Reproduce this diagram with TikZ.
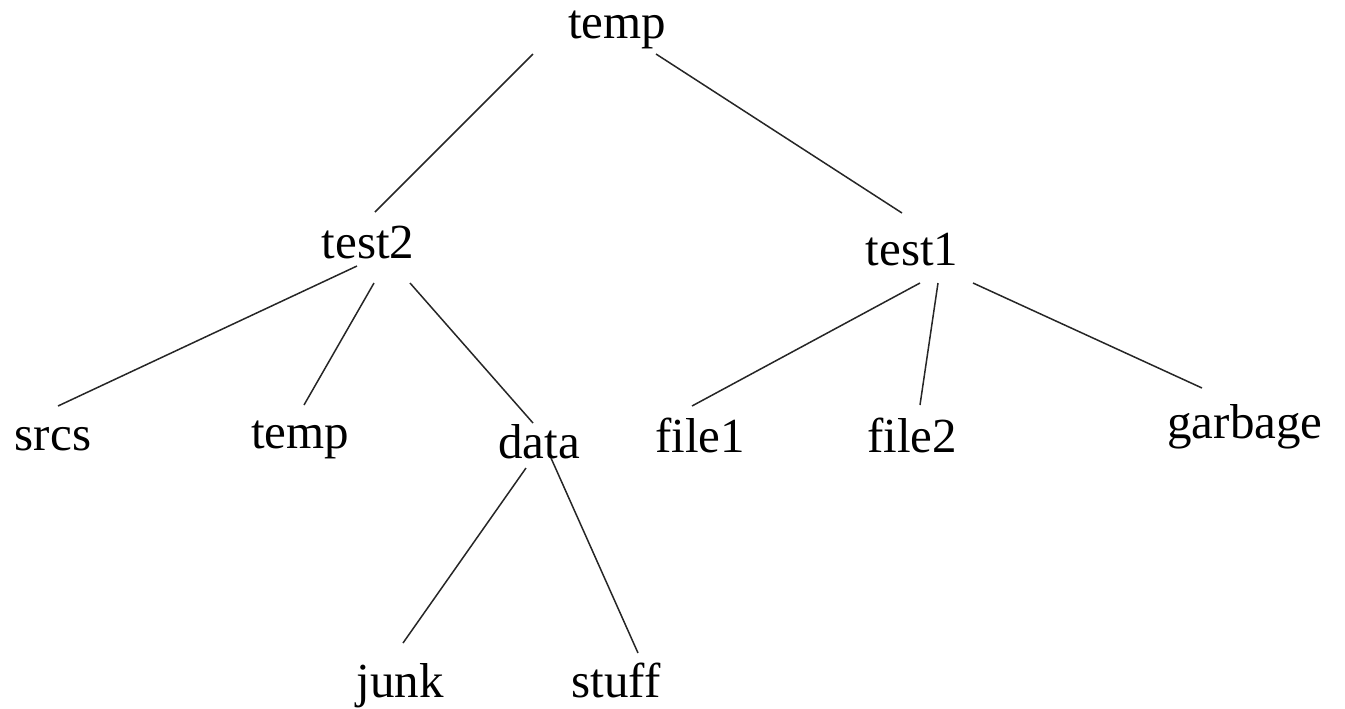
\documentclass[tikz,border=0pt]{standalone}
\usepackage{fontspec}
\setmainfont{Liberation Serif}
\usetikzlibrary{calc}
\begin{document}
\begin{tikzpicture}[x=0.5pt,y=-0.5pt,
  dir/.style={inner sep=0pt,anchor=base,font=\fontsize{24.5}{29}\selectfont},
  link/.style={line width=0.75pt,draw=black!85}]
\useasboundingbox (0,0) rectangle (1345,708);
% directory names
\node[dir] (root)    at (617,38)  {temp};
\node[dir] (test2)   at (368,258) {test2};
\node[dir] (test1)   at (912,265) {test1};
\node[dir] (srcs)    at (53,450)  {srcs};
\node[dir] (tmp)     at (300,448) {temp};
\node[dir] (data)    at (539,458) {data};
\node[dir] (file1)   at (700,452) {file1};
\node[dir] (file2)   at (912,452) {file2};
\node[dir] (garbage) at (1245,438) {garbage};
\node[dir] (junk)    at (400,697) {junk};
\node[dir] (stuff)   at (616,697) {stuff};
% links between parent and child, measured from each name's baseline
\draw[link] ($(root.base)+(-84,16)$)  -- ($(test2.base)+(7,-46)$);
\draw[link] ($(root.base)+(39,16)$)   -- ($(test1.base)+(-10,-52)$);
\draw[link] ($(test2.base)+(-11,8)$)  -- ($(srcs.base)+(5,-44)$);
\draw[link] ($(test2.base)+(6,25)$)   -- ($(tmp.base)+(4,-43)$);
\draw[link] ($(test2.base)+(42,25)$)  -- ($(data.base)+(-6,-35)$);
\draw[link] ($(test1.base)+(8,18)$)   -- ($(file1.base)+(-8,-46)$);
\draw[link] ($(test1.base)+(26,18)$)  -- ($(file2.base)+(8,-47)$);
\draw[link] ($(test1.base)+(61,18)$)  -- ($(garbage.base)+(-43,-50)$);
\draw[link] ($(data.base)+(-13,10)$)  -- ($(junk.base)+(3,-54)$);
\draw[link] ($(data.base)+(12,0)$)    -- ($(stuff.base)+(22,-44)$);
\end{tikzpicture}
\end{document}
